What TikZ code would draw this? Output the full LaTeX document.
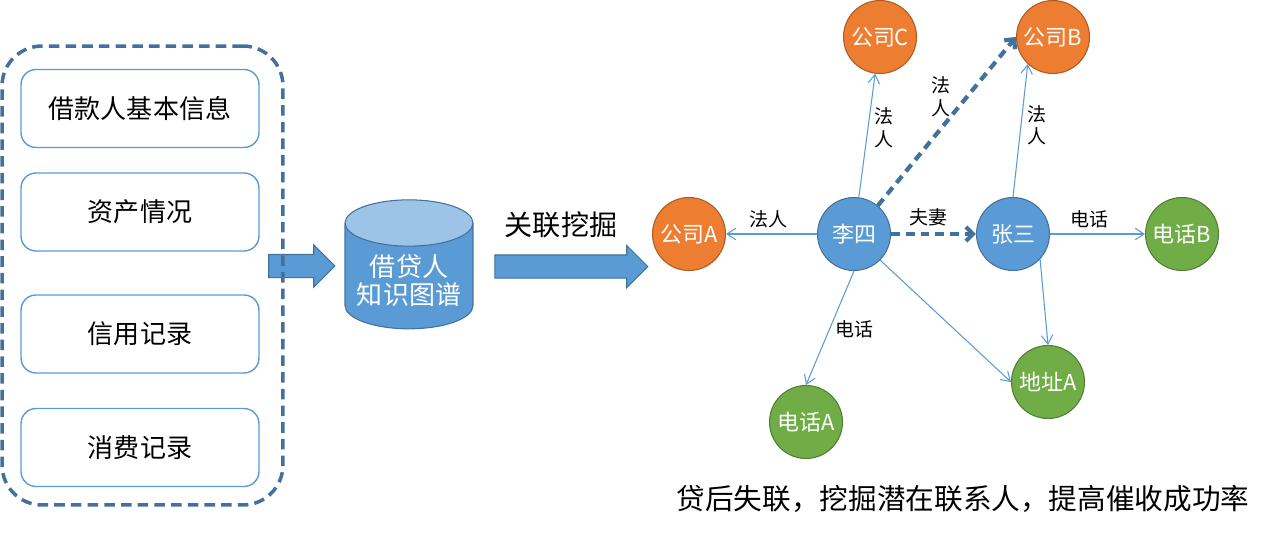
\documentclass[tikz,border=0pt]{standalone}
\usepackage{fontspec}
\setmainfont{Noto Sans CJK SC}
\usetikzlibrary{arrows.meta,shapes.geometric,shapes.arrows,positioning}

\definecolor{lineblue}{HTML}{5B9BD5}
\definecolor{darkblue}{HTML}{41719C}
\definecolor{topblue}{HTML}{9DC3E6}
\definecolor{corpfill}{HTML}{ED7D31}
\definecolor{corpline}{HTML}{AE5A21}
\definecolor{infofill}{HTML}{70AD47}
\definecolor{infoline}{HTML}{507E32}

\begin{document}
\begin{tikzpicture}[x=0.02cm,y=-0.02cm,
    groupbox/.style={draw=darkblue,line width=2pt,dash pattern=on 6pt off 3.5pt,
      rounded corners=0.8cm,minimum width=5.62cm,minimum height=9.18cm},
    infobox/.style={draw=lineblue,line width=0.8pt,fill=white,rounded corners=0.3cm,
      minimum width=4.76cm,minimum height=1.56cm,font=\fontsize{14.8}{18}\selectfont},
    bigarrow/.style={single arrow,draw=darkblue,fill=lineblue,line width=0.6pt,
      inner xsep=0pt,inner ysep=0.22cm,single arrow head extend=0.19cm},
    kgbase/.style={cylinder,shape border rotate=90,aspect=0.4,draw=darkblue,line width=0.6pt,
      cylinder uses custom fill,cylinder body fill=lineblue,cylinder end fill=topblue,
      minimum width=2.56cm,minimum height=2.58cm,text=white,align=center,
      font=\fontsize{14.8}{16}\selectfont},
    entity/.style={circle,minimum size=1.46cm,inner sep=0pt,line width=0.6pt,
      text=white,font=\fontsize{12.5}{15}\selectfont},
    corp/.style={entity,draw=corpline,fill=corpfill},
    person/.style={entity,draw=darkblue,fill=lineblue},
    info/.style={entity,draw=infoline,fill=infofill},
    edgelabel/.style={font=\fontsize{10.8}{13}\selectfont,align=center},
    thinedge/.style={draw=lineblue,line width=0.6pt,-{Straight Barb[length=5pt,width=6.5pt]}},
    dashedge/.style={draw=darkblue,line width=2.4pt,dash pattern=on 5pt off 3.4pt,
      -{Straight Barb[length=4pt,width=8pt]}}]
  \useasboundingbox (0,0) rectangle (1268,534);

  \node[bigarrow,minimum height=1.32cm] (feed) at (296,266) {};
  \node[groupbox] (source) at (142.5,275.5) {};
  \node[infobox] (basic) at (140,108.5) {借款人基本信息};
  \node[infobox] (asset) at (140,212) {资产情况};
  \node[infobox] (credit) at (140,334) {信用记录};
  \node[infobox] (consume) at (140,447.5) {消费记录};

  \node[kgbase] (kg) at (409,281) {借贷人\\知识图谱};
  \node[bigarrow,minimum height=3.06cm] (mine) at (565.5,266.5) {};
  \node[font=\fontsize{16}{19}\selectfont] (minelabel) at (561,225) {关联挖掘};

  \node[corp] (compA) at (689,234) {公司A};
  \node[person] (lisi) at (854,234) {李四};
  \node[person] (zhangsan) at (1013,234) {张三};
  \node[info] (phoneB) at (1182,234) {电话B};
  \node[corp] (compC) at (880,37) {公司C};
  \node[corp] (compB) at (1053,37) {公司B};
  \node[info] (phoneA) at (806,422) {电话A};
  \node[info] (addrA) at (1048,382) {地址A};

  \draw[thinedge] (lisi) -- node[edgelabel,above,pos=0.53] {法人} (compA);
  \draw[thinedge] (lisi) -- node[edgelabel,right,pos=0.56] {法\\人} (compC);
  \draw[dashedge] (lisi.50) -- node[edgelabel,left=0.16cm,pos=0.645] {法\\人} (compB.west);
  \draw[dashedge] (lisi) -- node[edgelabel,above,pos=0.44] {夫妻} (zhangsan);
  \draw[thinedge] (zhangsan.north) -- node[edgelabel,right,pos=0.54] {法\\人} (compB.227);
  \draw[thinedge] (zhangsan) -- node[edgelabel,above,pos=0.42] {电话} (phoneB);
  \draw[thinedge] (lisi.south) -- node[edgelabel,right,pos=0.51] {电话} (phoneA.north);
  \draw[thinedge] (lisi.-45) -- (addrA.west);
  \draw[thinedge] (zhangsan.-43) -- (addrA.north);

  \node[font=\fontsize{16.3}{19}\selectfont] (summary) at (963,499) {贷后失联，挖掘潜在联系人，提高催收成功率};
\end{tikzpicture}
\end{document}
